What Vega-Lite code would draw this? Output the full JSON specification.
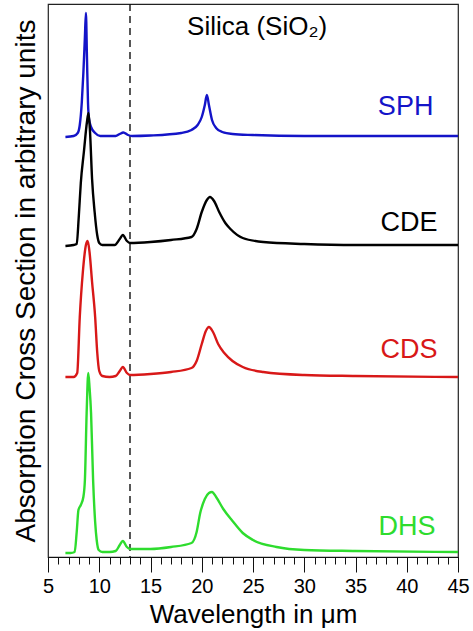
{
  "$schema": "https://vega.github.io/schema/vega-lite/v6.json",
  "width": 410,
  "height": 553,
  "autosize": "none",
  "padding": {"left": 48, "top": 4, "right": 15, "bottom": 74},
  "config": {
    "font": "Liberation Sans",
    "view": {"stroke": "#222", "strokeWidth": 1.2},
    "axis": {"grid": false}
  },
  "datasets": {
    "spectra": [
      {"model": "SPH", "wl": 6.7, "v": 420}, {"model": "SPH", "wl": 7.5, "v": 421}, {"model": "SPH", "wl": 7.9, "v": 424},
      {"model": "SPH", "wl": 8.1, "v": 432}, {"model": "SPH", "wl": 8.3, "v": 455}, {"model": "SPH", "wl": 8.45, "v": 484},
      {"model": "SPH", "wl": 8.6, "v": 520}, {"model": "SPH", "wl": 8.7, "v": 544}, {"model": "SPH", "wl": 8.8, "v": 500},
      {"model": "SPH", "wl": 8.9, "v": 455}, {"model": "SPH", "wl": 9.0, "v": 438}, {"model": "SPH", "wl": 9.2, "v": 430},
      {"model": "SPH", "wl": 9.6, "v": 424}, {"model": "SPH", "wl": 10.1, "v": 421}, {"model": "SPH", "wl": 11.0, "v": 421},
      {"model": "SPH", "wl": 11.6, "v": 421}, {"model": "SPH", "wl": 12.0, "v": 423}, {"model": "SPH", "wl": 12.35, "v": 424.5},
      {"model": "SPH", "wl": 12.8, "v": 422}, {"model": "SPH", "wl": 13.2, "v": 421}, {"model": "SPH", "wl": 15.0, "v": 421.5},
      {"model": "SPH", "wl": 18.0, "v": 424}, {"model": "SPH", "wl": 19.0, "v": 427}, {"model": "SPH", "wl": 19.6, "v": 432},
      {"model": "SPH", "wl": 20.0, "v": 440}, {"model": "SPH", "wl": 20.3, "v": 452}, {"model": "SPH", "wl": 20.5, "v": 462},
      {"model": "SPH", "wl": 20.7, "v": 452}, {"model": "SPH", "wl": 21.0, "v": 437}, {"model": "SPH", "wl": 21.4, "v": 429},
      {"model": "SPH", "wl": 22.0, "v": 425}, {"model": "SPH", "wl": 23.0, "v": 423}, {"model": "SPH", "wl": 25.0, "v": 422},
      {"model": "SPH", "wl": 30.0, "v": 421}, {"model": "SPH", "wl": 35.0, "v": 421}, {"model": "SPH", "wl": 45.0, "v": 421},

      {"model": "CDE", "wl": 6.7, "v": 311}, {"model": "CDE", "wl": 7.5, "v": 312}, {"model": "CDE", "wl": 7.8, "v": 313},
      {"model": "CDE", "wl": 8.0, "v": 340}, {"model": "CDE", "wl": 8.2, "v": 374}, {"model": "CDE", "wl": 8.5, "v": 405},
      {"model": "CDE", "wl": 8.8, "v": 435}, {"model": "CDE", "wl": 8.95, "v": 444}, {"model": "CDE", "wl": 9.1, "v": 425},
      {"model": "CDE", "wl": 9.3, "v": 378}, {"model": "CDE", "wl": 9.55, "v": 345}, {"model": "CDE", "wl": 9.8, "v": 322},
      {"model": "CDE", "wl": 10.0, "v": 314}, {"model": "CDE", "wl": 10.3, "v": 312}, {"model": "CDE", "wl": 11.0, "v": 312},
      {"model": "CDE", "wl": 11.5, "v": 312}, {"model": "CDE", "wl": 12.0, "v": 318}, {"model": "CDE", "wl": 12.3, "v": 322},
      {"model": "CDE", "wl": 12.7, "v": 316}, {"model": "CDE", "wl": 13.0, "v": 314}, {"model": "CDE", "wl": 15.0, "v": 315},
      {"model": "CDE", "wl": 17.0, "v": 317}, {"model": "CDE", "wl": 19.0, "v": 320}, {"model": "CDE", "wl": 19.5, "v": 328},
      {"model": "CDE", "wl": 20.0, "v": 345}, {"model": "CDE", "wl": 20.5, "v": 357}, {"model": "CDE", "wl": 20.8, "v": 360},
      {"model": "CDE", "wl": 21.2, "v": 356}, {"model": "CDE", "wl": 21.7, "v": 345}, {"model": "CDE", "wl": 22.3, "v": 334},
      {"model": "CDE", "wl": 22.8, "v": 328}, {"model": "CDE", "wl": 24.0, "v": 319}, {"model": "CDE", "wl": 26.0, "v": 315},
      {"model": "CDE", "wl": 30.0, "v": 313}, {"model": "CDE", "wl": 35.0, "v": 312}, {"model": "CDE", "wl": 45.0, "v": 312},

      {"model": "CDS", "wl": 6.7, "v": 180}, {"model": "CDS", "wl": 7.5, "v": 180}, {"model": "CDS", "wl": 7.85, "v": 184},
      {"model": "CDS", "wl": 8.1, "v": 240}, {"model": "CDS", "wl": 8.4, "v": 285}, {"model": "CDS", "wl": 8.7, "v": 312},
      {"model": "CDS", "wl": 8.87, "v": 316}, {"model": "CDS", "wl": 9.05, "v": 305}, {"model": "CDS", "wl": 9.3, "v": 275},
      {"model": "CDS", "wl": 9.6, "v": 240}, {"model": "CDS", "wl": 9.8, "v": 205}, {"model": "CDS", "wl": 10.0, "v": 186},
      {"model": "CDS", "wl": 10.3, "v": 181}, {"model": "CDS", "wl": 11.0, "v": 180}, {"model": "CDS", "wl": 11.6, "v": 181},
      {"model": "CDS", "wl": 12.0, "v": 186}, {"model": "CDS", "wl": 12.3, "v": 190}, {"model": "CDS", "wl": 12.7, "v": 184},
      {"model": "CDS", "wl": 13.0, "v": 182}, {"model": "CDS", "wl": 15.0, "v": 183}, {"model": "CDS", "wl": 17.0, "v": 185},
      {"model": "CDS", "wl": 19.0, "v": 189}, {"model": "CDS", "wl": 19.5, "v": 196}, {"model": "CDS", "wl": 20.0, "v": 213},
      {"model": "CDS", "wl": 20.4, "v": 226}, {"model": "CDS", "wl": 20.7, "v": 230}, {"model": "CDS", "wl": 21.1, "v": 225},
      {"model": "CDS", "wl": 21.6, "v": 213}, {"model": "CDS", "wl": 22.2, "v": 204}, {"model": "CDS", "wl": 23.0, "v": 196},
      {"model": "CDS", "wl": 24.0, "v": 190}, {"model": "CDS", "wl": 26.0, "v": 185}, {"model": "CDS", "wl": 30.0, "v": 182},
      {"model": "CDS", "wl": 35.0, "v": 181}, {"model": "CDS", "wl": 45.0, "v": 180},

      {"model": "DHS", "wl": 6.7, "v": 4}, {"model": "DHS", "wl": 7.2, "v": 4}, {"model": "DHS", "wl": 7.6, "v": 5},
      {"model": "DHS", "wl": 7.8, "v": 25}, {"model": "DHS", "wl": 7.97, "v": 47}, {"model": "DHS", "wl": 8.2, "v": 52},
      {"model": "DHS", "wl": 8.45, "v": 60}, {"model": "DHS", "wl": 8.6, "v": 77}, {"model": "DHS", "wl": 8.77, "v": 144},
      {"model": "DHS", "wl": 8.93, "v": 184}, {"model": "DHS", "wl": 9.05, "v": 170}, {"model": "DHS", "wl": 9.2, "v": 144},
      {"model": "DHS", "wl": 9.4, "v": 77}, {"model": "DHS", "wl": 9.6, "v": 35}, {"model": "DHS", "wl": 9.75, "v": 17},
      {"model": "DHS", "wl": 9.95, "v": 7}, {"model": "DHS", "wl": 10.3, "v": 5}, {"model": "DHS", "wl": 11.0, "v": 5},
      {"model": "DHS", "wl": 11.6, "v": 6}, {"model": "DHS", "wl": 12.0, "v": 12}, {"model": "DHS", "wl": 12.3, "v": 16},
      {"model": "DHS", "wl": 12.7, "v": 10}, {"model": "DHS", "wl": 13.0, "v": 8}, {"model": "DHS", "wl": 15.0, "v": 8},
      {"model": "DHS", "wl": 17.0, "v": 10}, {"model": "DHS", "wl": 19.0, "v": 14}, {"model": "DHS", "wl": 19.5, "v": 25},
      {"model": "DHS", "wl": 19.85, "v": 44}, {"model": "DHS", "wl": 20.3, "v": 58}, {"model": "DHS", "wl": 20.7, "v": 64},
      {"model": "DHS", "wl": 21.0, "v": 65}, {"model": "DHS", "wl": 21.4, "v": 60}, {"model": "DHS", "wl": 22.1, "v": 48},
      {"model": "DHS", "wl": 23.0, "v": 36}, {"model": "DHS", "wl": 24.0, "v": 24}, {"model": "DHS", "wl": 25.0, "v": 17},
      {"model": "DHS", "wl": 27.3, "v": 10}, {"model": "DHS", "wl": 30.0, "v": 7}, {"model": "DHS", "wl": 35.0, "v": 6},
      {"model": "DHS", "wl": 45.0, "v": 5}
    ],
    "labels": [
      {"model": "SPH", "wl": 42.6, "v": 450},
      {"model": "CDE", "wl": 43.0, "v": 334},
      {"model": "CDS", "wl": 43.0, "v": 207},
      {"model": "DHS", "wl": 42.8, "v": 30}
    ],
    "cutoff": [{"wl": 13.0}],
    "heading": [{"wl": 25.4, "v": 530, "text": "Silica (SiO₂)"}]
  },
  "encoding": {
    "x": {
      "field": "wl",
      "type": "quantitative",
      "scale": {"domain": [5, 45], "nice": false, "zero": false},
      "axis": {
        "values": [5, 6, 7, 8, 9, 10, 11, 12, 13, 14, 15, 16, 17, 18, 19, 20, 21, 22, 23, 24, 25, 26, 27, 28, 29, 30, 31, 32, 33, 34, 35, 36, 37, 38, 39, 40, 41, 42, 43, 44, 45],
        "labelExpr": "datum.value % 5 === 0 ? datum.label : ''",
        "tickSize": {"condition": {"test": "datum.value % 5 === 0", "value": 15}, "value": 7},
        "tickColor": "#111",
        "tickWidth": 1,
        "domainColor": "#111",
        "labelFontSize": 20,
        "labelColor": "#000",
        "labelPadding": 4,
        "labelFlush": false,
        "labelOverlap": false,
        "labelBound": false,
        "title": "Wavelength in μm",
        "titleFontSize": 26,
        "titleFontWeight": "normal",
        "titleColor": "#000",
        "titlePadding": 5
      }
    }
  },
  "layer": [
    {
      "data": {"name": "cutoff"},
      "mark": {"type": "rule", "color": "#111", "strokeWidth": 1.4, "strokeDash": [7, 5]},
      "encoding": {}
    },
    {
      "data": {"name": "spectra"},
      "mark": {"type": "line", "strokeWidth": 2.4, "interpolate": "monotone"},
      "encoding": {
        "y": {"field": "v", "type": "quantitative", "scale": {"domain": [0, 553], "nice": false},
          "axis": {
            "title": "Absorption Cross Section in arbitrary units",
            "labels": false, "ticks": false, "domain": false,
            "titleFontSize": 28, "titleFontWeight": "normal", "titleColor": "#000",
            "titlePadding": 8
          }
        },
        "color": {"field": "model", "type": "nominal",
          "scale": {"domain": ["SPH", "CDE", "CDS", "DHS"], "range": ["#1414c8", "#000000", "#d81818", "#2edc2e"]},
          "legend": null
        },
        "detail": {"field": "model"}
      }
    },
    {
      "data": {"name": "labels"},
      "mark": {"type": "text", "align": "right", "baseline": "middle", "fontSize": 27},
      "encoding": {
        "y": {"field": "v", "type": "quantitative"},
        "text": {"field": "model"},
        "color": {"field": "model", "type": "nominal", "legend": null}
      }
    },
    {
      "data": {"name": "heading"},
      "mark": {"type": "text", "align": "center", "baseline": "middle", "fontSize": 26, "color": "#000"},
      "encoding": {
        "y": {"field": "v", "type": "quantitative"},
        "text": {"field": "text"}
      }
    }
  ]
}
